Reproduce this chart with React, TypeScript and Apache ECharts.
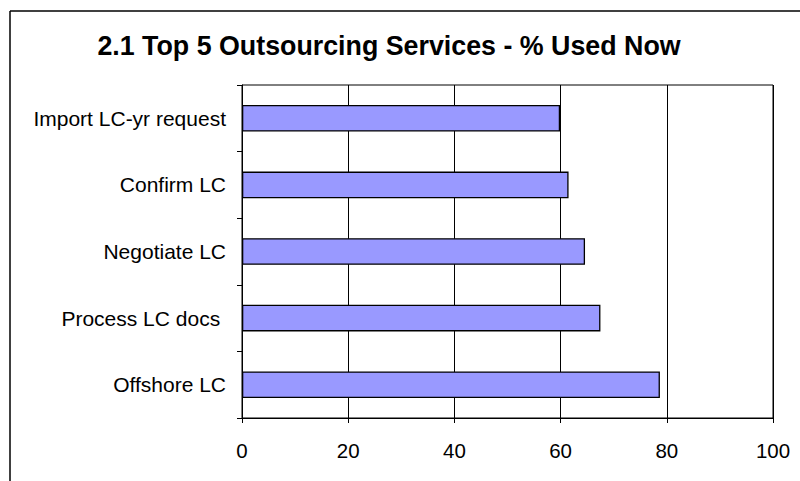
import React, { useEffect, useRef } from "react";
import * as echarts from "echarts";

const titleText = "2.1 Top 5 Outsourcing Services - % Used Now";
const categories = [
  "Import LC-yr request",
  "Confirm LC",
  "Negotiate LC",
  "Process LC docs ",
  "Offshore LC",
];
const usedNow = [59.9, 61.5, 64.6, 67.5, 78.7];
const xMin = 0;
const xMax = 100;
const xStep = 20;

export default function App() {
  const ref = useRef<HTMLDivElement>(null);
  useEffect(() => {
    if (!ref.current) return;
    const chart = echarts.init(ref.current, null, { renderer: "svg" });
    const font = "'Liberation Sans', Arial, sans-serif";
    chart.setOption({
      animation: false,
      backgroundColor: "#ffffff",
      title: {
        text: titleText,
        left: 384,
        textAlign: "center",
        top: 27,
        textStyle: { fontFamily: font, fontSize: 26.8, fontWeight: "bold", color: "#000" },
      },
      graphic: [
        { type: "line", shape: { x1: 10, y1: 11, x2: 800, y2: 11 }, style: { stroke: "#000", lineWidth: 1.5 } },
        { type: "line", shape: { x1: 10, y1: 11, x2: 10, y2: 481 }, style: { stroke: "#000", lineWidth: 1.5 } },
      ],
      grid: {
        left: 242,
        right: 27,
        top: 85,
        bottom: 63,
        show: true,
        borderColor: "#000",
        borderWidth: 1,
        containLabel: false,
      },
      xAxis: {
        type: "value",
        min: xMin,
        max: xMax,
        interval: xStep,
        axisLine: { show: true, lineStyle: { color: "#000", width: 1 } },
        axisTick: { show: true, length: 5, lineStyle: { color: "#000" } },
        splitLine: { show: true, lineStyle: { color: "#000", width: 1 } },
        axisLabel: { fontFamily: font, fontSize: 20.5, color: "#000", margin: 22 },
      },
      yAxis: {
        type: "category",
        data: categories,
        inverse: true,
        axisLine: { show: true, lineStyle: { color: "#000", width: 1 } },
        axisTick: { show: true, length: 5, lineStyle: { color: "#000" } },
        splitLine: { show: false },
        axisLabel: { fontFamily: font, fontSize: 21, color: "#000", margin: 16 },
      },
      series: [
        {
          type: "bar",
          data: usedNow,
          barWidth: "40%",
          itemStyle: { color: "#9999FF", borderColor: "#000", borderWidth: 1.3 },
        },
      ],
    });
    return () => chart.dispose();
  }, []);
  return (
    <div
      ref={ref}
      style={{ position: "fixed", left: 0, top: 0, width: 800, height: 481 }}
    />
  );
}
